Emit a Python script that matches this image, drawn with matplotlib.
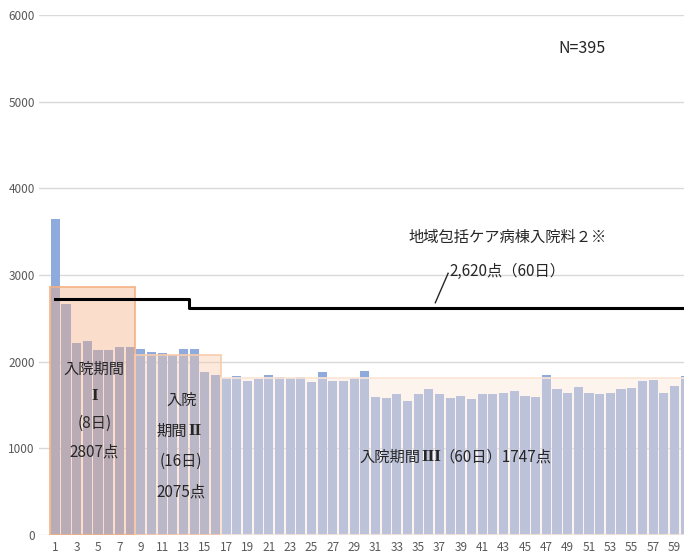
import matplotlib
matplotlib.use("Agg")
import matplotlib.pyplot as plt
import numpy as np

plt.rcParams["font.family"] = ["Noto Sans CJK JP", "DejaVu Sans"]

# average points per inpatient day (day 1..60)
days = list(range(1, 61))
points = [3650, 2665, 2212, 2238, 2138, 2138, 2169, 2169, 2142, 2111,
          2100, 2080, 2142, 2142, 1877, 1850, 1808, 1838, 1780, 1796,
          1850, 1823, 1808, 1823, 1765, 1877, 1780, 1780, 1808, 1892,
          1596, 1581, 1623, 1542, 1623, 1681, 1623, 1581, 1608, 1569,
          1623, 1623, 1638, 1662, 1608, 1592, 1846, 1681, 1638, 1708,
          1638, 1623, 1638, 1681, 1692, 1777, 1792, 1638, 1723, 1838]

# admission periods: start day, end day, box height, fill colour
period_start = [1, 9, 17]
period_end = [8, 16, 60]
period_height = [2860, 2080, 1815]
period_color = ["#F4B183", "#F8CBAD", "#FBE5D6"]

# community care ward fee 2 (step line)
fee_x = [1, 13.5, 13.5, 61]
fee_y = [2720, 2720, 2620, 2620]

xticks = list(range(1, 61, 2))
yticks = [0, 1000, 2000, 3000, 4000, 5000, 6000]

fig = plt.figure(figsize=(6.84, 5.58), dpi=100)
ax = fig.add_axes([39 / 684, 23 / 558, 1 - 39 / 684, 520 / 558])

ax.bar(days, points, width=0.85, color="#8FAADC", zorder=2)

for s, e, h, c in zip(period_start, period_end, period_height, period_color):
    ax.bar((s + e) / 2, h, width=e - s + 1, bottom=0,
           facecolor=c, alpha=0.42, edgecolor="none", zorder=3)
    ax.bar((s + e) / 2, h, width=e - s + 1, bottom=0,
           facecolor="none", edgecolor=c, linewidth=1.2, zorder=3)

ax.plot(fee_x, fee_y, color="black", linewidth=2.2, zorder=4)

ax.set_xlim(-0.53, 59.9)
ax.set_ylim(0, 6000)
ax.set_yticks(yticks)
ax.set_xticks(xticks)
ax.tick_params(axis="both", length=0, labelsize=8.5, colors="#595959")
ax.tick_params(axis="y", pad=3)
ax.tick_params(axis="x", pad=4)
ax.yaxis.grid(True, color="#D9D9D9", linewidth=1)
ax.set_axisbelow(True)
for sp in ax.spines.values():
    sp.set_visible(False)
ax.axhline(0, xmin=(0.5 + 0.53) / 60.43, color="#D9D9D9", linewidth=1, zorder=1)

tc = "#262626"
roman = dict(family="Liberation Serif", weight="bold", fontsize=12.5,
             va="center", color=tc, zorder=6)
ax.text(50.3, 5619, "N=395", fontsize=11.5, ha="center", va="center", color=tc)
ax.text(43.4, 3438, "地域包括ケア病棟入院料２※", fontsize=11, ha="center",
        va="center", color=tc)
ax.text(37.9, 3046, "2,620点（60日）", fontsize=11, ha="left", va="center", color=tc)
ax.plot([36.6, 37.8], [2680, 3020], color=tc, linewidth=1, zorder=5)

# period I
for label, y in zip(["入院期間", "(8日)", "2807点"], [1915, 1290, 960]):
    ax.text(4.65, y, label, fontsize=11, ha="center", va="center", color=tc, zorder=6)
ax.text(4.65, 1600, "I", ha="center", **roman)

# period II
for label, y in zip(["入院", "(16日)", "2075点"], [1558, 845, 500]):
    ax.text(12.8, y, label, fontsize=11, ha="center", va="center", color=tc, zorder=6)
ax.text(13.35, 1200, "期間", fontsize=11, ha="right", va="center", color=tc, zorder=6)
ax.text(13.45, 1200, "II", ha="left", **roman)

# period III
ax.text(35.2, 900, "入院期間", fontsize=11, ha="right", va="center", color=tc, zorder=6)
ax.text(35.3, 900, "III", ha="left", **roman)
ax.text(37.0, 900, "（60日）1747点", fontsize=11, ha="left", va="center",
        color=tc, zorder=6)

fig.savefig("out.png", dpi=100)
